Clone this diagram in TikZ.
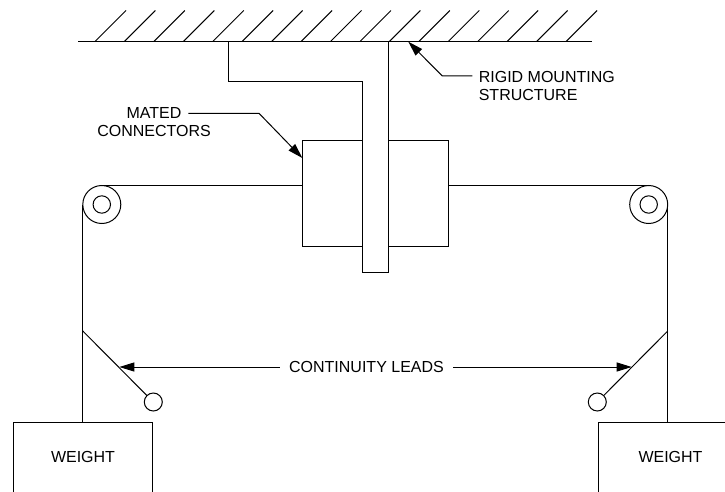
\documentclass[tikz,border=0pt]{standalone}
\usepackage{fontspec}
\setmainfont{Liberation Sans}
\usetikzlibrary{arrows.meta}
\tikzset{
  part/.style={draw, line width=1pt, inner sep=0pt, outer sep=0pt},
  ring/.style={part, circle, fill=white},
  caption/.style={inner sep=0pt, font=\fontsize{16}{18}\selectfont},
  leader/.style={line width=1pt, -{Triangle[length=15pt,width=9pt]}}
}
\begin{document}
\begin{tikzpicture}[x=1pt, y=-1pt, line width=1pt]
          \useasboundingbox (0,0) rectangle (725,492);
          % connectors and bracket
          \node [part, minimum width=145.7pt, minimum height=106.3pt] (conn) at (375.2,193.8) {};
          \draw [fill=white] (228.7,41.5) |- (362.3,81.7) |- (388.3,272) -- (388.3,41.5);
          % mounting surface
          \coordinate (groundl) at (78,41.5);
          \coordinate (groundr) at (592,41.5);
          \draw (groundl) -- (groundr);
          \foreach \i in {0,...,16}{
            \draw ({95+29.44*\i},41.5) -- ++(31,-31);
          }
          % pulleys, wires
          \node [ring, minimum size=38pt] (pulleyl) at (101.8,204.5) {};
          \node [ring, minimum size=17.4pt] (pinl) at (pulleyl) {};
          \node [ring, minimum size=38pt] (pulleyr) at (648.7,204.5) {};
          \node [ring, minimum size=17.4pt] (pinr) at (pulleyr) {};
          \draw (conn.west |- pulleyl.north) -- (pulleyl.north);
          \draw (conn.east |- pulleyr.north) -- (pulleyr.north);
          \coordinate (hangl) at (pulleyl.west |- 0,422.7);
          \coordinate (hangr) at (pulleyr.east |- 0,422.7);
          \draw (pulleyl.west) -- (hangl);
          \draw (pulleyr.east) -- (hangr);
          % weights, cut off at the lower edge
          \draw (13.3,492) |- (152.3,422.7) -- (152.3,492);
          \draw (598.7,492) |- (725,422.7);
          \node [caption] (weightl) at (83,457.3) {WEIGHT};
          \node [caption] (weightr) at (670.5,457.3) {WEIGHT};
          % continuity leads
          \node [ring, minimum size=18pt] (lugl) at (153.3,402) {};
          \node [ring, minimum size=18pt] (lugr) at (597.3,402) {};
          \coordinate (tapl) at (82.8,331);
          \coordinate (tapr) at (667.7,331);
          \draw (tapl) -- (lugl);
          \draw (tapr) -- (lugr);
          \node [caption] (leads) at (366.5,367) {CONTINUITY LEADS};
          \coordinate (tipl) at (119.3,367);
          \coordinate (tipr) at (631.7,367);
          \draw [leader] ([xshift=-9pt]leads.west) -- (tipl);
          \draw [leader] ([xshift=9pt]leads.east) -- (tipr);
          % callouts
          \node [caption, align=center] (mated) at (154,122.5) {MATED\\CONNECTORS};
          \coordinate (matedtip) at (302.3,158);
          \draw [leader] (188.3,113.3) -- (259,113.3) -- (matedtip);
          \node [caption, align=left, anchor=west] (rigid) at (478.3,86) {RIGID MOUNTING\\STRUCTURE};
          \coordinate (rigidtip) at (408.3,41.7);
          \draw [leader] ([xshift=-6pt,yshift=10pt]rigid.west) -- (442.3,76) -- (rigidtip);
        \end{tikzpicture}
\end{document}
